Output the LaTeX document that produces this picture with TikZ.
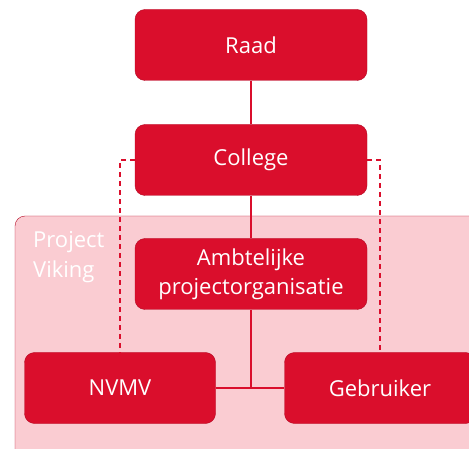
\documentclass[tikz,border=0pt]{standalone}
\usepackage{fontspec}
\setmainfont{Open Sans}
\definecolor{vikred}{RGB}{218,14,44}
\definecolor{vikdark}{RGB}{180,10,36}
\definecolor{vikpink}{RGB}{250,204,210}
\begin{document}
\begin{tikzpicture}
[
x=1pt, y=-1pt,
orgbox/.style={rectangle, rounded corners=10pt, draw=vikdark, fill=vikred, thin, text=white, minimum width=232pt, minimum height=71pt, font=\fontsize{22}{29}\selectfont, align=center},
smallbox/.style={orgbox, minimum width=191pt},
link/.style={draw=vikred, line width=1.2pt},
dlink/.style={link, dash pattern=on 5pt off 4pt},
]
\useasboundingbox (0,0) rectangle (469,449);
\clip (0,0) rectangle (469,449);

% project area
\draw[draw=vikdark, fill=vikpink, rounded corners=10pt] (15,216) rectangle (520,500);
\node at (33,231) [anchor=north west, text=white, align=left, inner sep=0pt, font=\fontsize{22}{30}\selectfont] (viking) {Project\\Viking};

\node at (251,45) [orgbox] (raad) {Raad};
\node at (251,160) [orgbox] (college) {College};
\node at (251,274) [orgbox, inner sep=2pt] (ambt) {Ambtelijke\\projectorganisatie};
\node at (120,388) [smallbox] (nvmv) {NVMV};
\node at (380,388) [smallbox] (gebruiker) {Gebruiker};

\draw[link] (raad) -- (college);
\draw[link] (college) -- (ambt);
\draw[link] (ambt) -- (ambt.south |- nvmv.east);
\draw[link] (nvmv) -- (gebruiker);

\draw[dlink] (college.west) -| (nvmv.north);
\draw[dlink] (college.east) -| (gebruiker.north);

\end{tikzpicture}
\end{document}
